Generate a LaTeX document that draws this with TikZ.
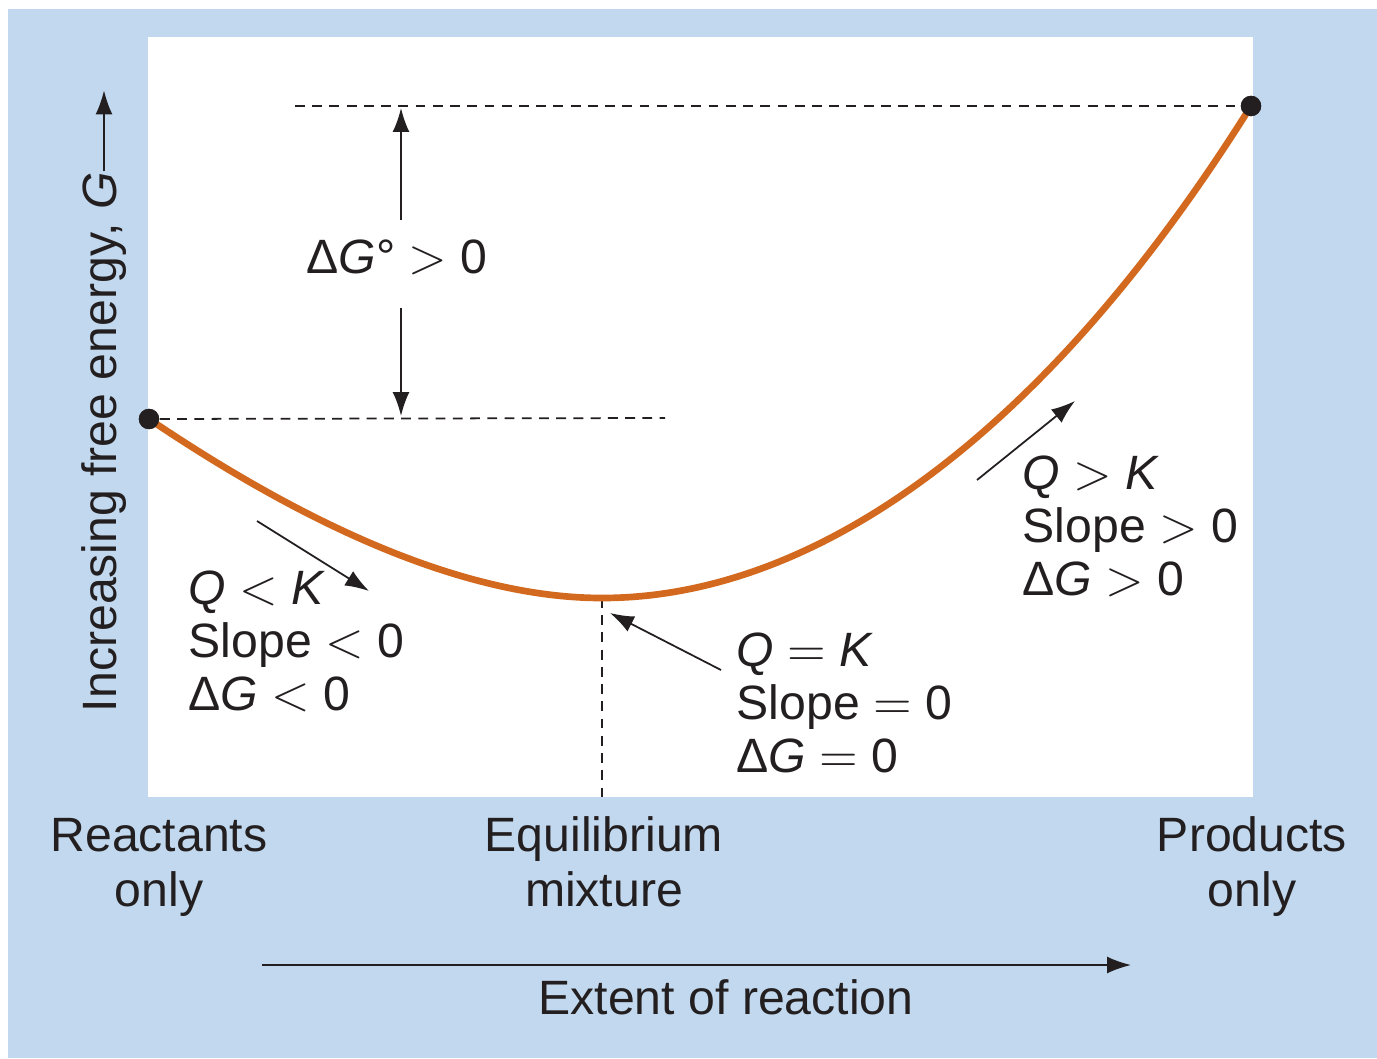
\documentclass[tikz,border=0pt]{standalone}
\usepackage{fontspec}
\setmainfont{Liberation Sans}
\usetikzlibrary{arrows.meta}
\definecolor{bgblue}{HTML}{C1D8EE}
\definecolor{curvecol}{HTML}{D2691F}
\definecolor{inkcol}{HTML}{231F20}
\begin{document}
\begin{tikzpicture}[x=0.01cm,y=-0.01cm,
  font=\fontsize{13.7}{15.4}\selectfont,
  every node/.style={text=inkcol},
  arr/.style={draw=inkcol,line width=0.5pt,-{Latex[length=6.8pt,width=4.8pt]}},
  dashline/.style={draw=inkcol,line width=0.5pt,dash pattern=on 2.8pt off 2.1pt},
  dotnode/.style={circle,fill=inkcol,inner sep=0,minimum size=5.8pt},
  blk/.style={anchor=base west,align=left,inner sep=0},
  axlbl/.style={anchor=base,align=center,inner sep=0}]
\useasboundingbox (0,0) rectangle (1377,1058);
\fill[white] (0,0) rectangle (1377,1058);
\fill[bgblue] (8,9) rectangle (1377,1058);
\fill[white] (148,37) rectangle (1253,797);

% dashed guides
\coordinate (topL) at (295,106);
\coordinate (lowR) at (665,418);
\coordinate (eqB) at (602,797);
\node[dotnode] (R) at (149,419) {};
\node[dotnode] (P) at (1251,106) {};
\coordinate (eq) at (602,598);
\draw[dashline] (topL) -- (P);
\draw[dashline] (R) -- (lowR);
\draw[dashline] (eq) -- (eqB);

% curve
\draw[curvecol,line width=1.9pt,line cap=round]
  (R.center) .. controls (265,497) and (440,598) .. (eq)
  .. controls (812,598) and (1042,440) .. (P.center);
\node[dotnode] at (149,419) {};
\node[dotnode] at (1251,106) {};

% Delta G standard
\node[anchor=base,inner sep=0] (dg0) at (397,274) {Δ\textit{G}° $>$ 0};
\coordinate (dgU) at (401,108);
\coordinate (dgD) at (401,416);
\coordinate (dgUs) at (401,220);
\coordinate (dgDs) at (401,308);
\draw[arr] (dgUs) -- (dgU);
\draw[arr] (dgDs) -- (dgD);

% small arrows
\coordinate (a1s) at (257,521); \coordinate (a1e) at (369,591);
\coordinate (a2s) at (721,670); \coordinate (a2e) at (610,613);
\coordinate (a3s) at (977,480); \coordinate (a3e) at (1075,401);
\draw[arr] (a1s) -- (a1e);
\draw[arr] (a2s) -- (a2e);
\draw[arr] (a3s) -- (a3e);

% text blocks
\node[blk] (lt1) at (188,604) {\textit{Q} $<$ \textit{K}};
\node[blk] (lt2) at (188,657) {Slope $<$ 0};
\node[blk] (lt3) at (188,710) {Δ\textit{G} $<$ 0};

\node[blk] (mt1) at (736,666) {\textit{Q} $=$ \textit{K}};
\node[blk] (mt2) at (736,719) {Slope $=$ 0};
\node[blk] (mt3) at (736,772) {Δ\textit{G} $=$ 0};

\node[blk] (rt1) at (1022,489) {\textit{Q} $>$ \textit{K}};
\node[blk] (rt2) at (1022,542) {Slope $>$ 0};
\node[blk] (rt3) at (1022,595) {Δ\textit{G} $>$ 0};

% y axis label
\node[rotate=90,inner sep=0] (ylab) at (104,442) {Increasing free energy, \textit{G}};
\coordinate (ytip) at ([yshift=23pt]ylab.east);
\draw[arr] (ylab.east) -- (ytip);

% bottom labels
\node[axlbl] (rl) at (159,906) {Reactants\\only};
\node[axlbl] (el) at (604,906) {Equilibrium\\mixture};
\node[axlbl] (pl) at (1252,906) {Products\\only};

\coordinate (xs) at (262,965);
\coordinate (xe) at (1131,965);
\draw[arr] (xs) -- (xe);
\node[anchor=base,inner sep=0] (xl) at (726,1014) {Extent of reaction};
\end{tikzpicture}
\end{document}
